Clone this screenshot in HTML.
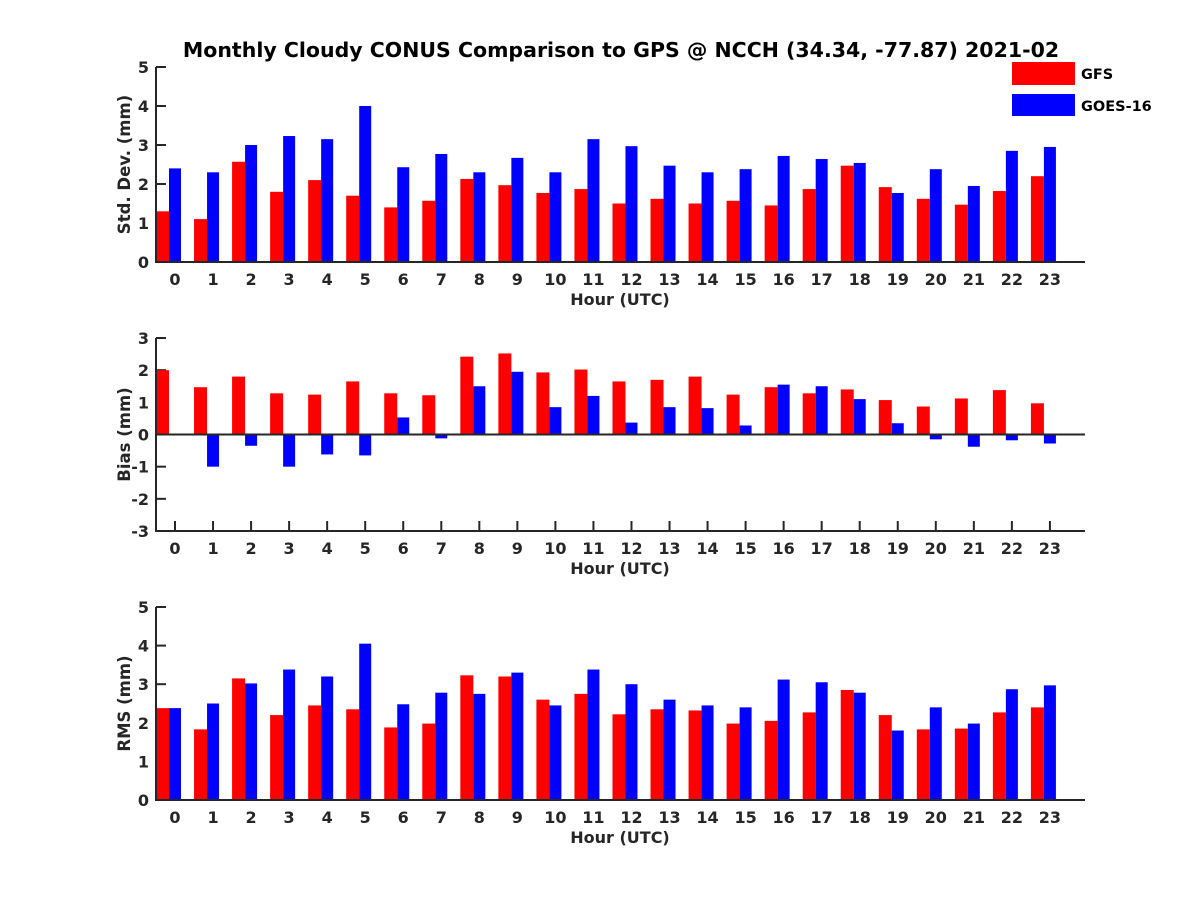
<!DOCTYPE html>
<html><head><meta charset="utf-8"><style>
body{margin:0;background:#fff;}
svg text{font-family:"DejaVu Sans","Liberation Sans",sans-serif;font-weight:bold;fill:#262626;}
</style></head><body>
<svg id="chart" width="1200" height="900" xmlns="http://www.w3.org/2000/svg">
<text x="621" y="57" font-size="20.5" text-anchor="middle" style="fill:#000">Monthly Cloudy CONUS Comparison to GPS @ NCCH (34.34, -77.87) 2021-02</text>
<g id="plots"></g>
<g>
<rect x="1012" y="62" width="63" height="23" fill="#ff0000"/>
<text x="1081" y="79" font-size="14.5" style="fill:#000">GFS</text>
<rect x="1012" y="94" width="63" height="22" fill="#0000ff"/>
<text x="1081" y="111" font-size="14.5" style="fill:#000">GOES-16</text>
</g>
</svg>
<script>
const hours=[0,1,2,3,4,5,6,7,8,9,10,11,12,13,14,15,16,17,18,19,20,21,22,23];
const stdGFS=[1.3,1.1,2.57,1.8,2.1,1.7,1.4,1.57,2.13,1.97,1.77,1.87,1.5,1.62,1.5,1.57,1.45,1.87,2.47,1.92,1.62,1.47,1.82,2.2];
const stdGOES=[2.4,2.3,3.0,3.23,3.15,4.0,2.43,2.77,2.3,2.67,2.3,3.15,2.97,2.47,2.3,2.38,2.72,2.64,2.54,1.77,2.38,1.95,2.85,2.95];
const biasGFS=[2.0,1.47,1.8,1.28,1.24,1.65,1.28,1.22,2.42,2.52,1.93,2.02,1.65,1.7,1.8,1.24,1.47,1.28,1.4,1.07,0.87,1.12,1.38,0.97];
const biasGOES=[0,-1.0,-0.35,-1.0,-0.62,-0.65,0.53,-0.12,1.5,1.95,0.85,1.2,0.37,0.85,0.82,0.28,1.55,1.5,1.1,0.35,-0.15,-0.38,-0.18,-0.28];
const rmsGFS=[2.38,1.83,3.15,2.2,2.45,2.35,1.88,1.98,3.23,3.2,2.6,2.75,2.22,2.35,2.32,1.98,2.05,2.27,2.85,2.2,1.83,1.85,2.27,2.4];
const rmsGOES=[2.38,2.5,3.02,3.38,3.2,4.05,2.48,2.78,2.75,3.3,2.45,3.38,3.0,2.6,2.45,2.4,3.12,3.05,2.78,1.8,2.4,1.98,2.87,2.97];
const stdTicks=[0,1,2,3,4,5];
const biasTicks=[-3,-2,-1,0,1,2,3];
const rmsTicks=[0,1,2,3,4,5];
const NS="http://www.w3.org/2000/svg";
const root=document.getElementById('plots');
function mk(tag,attrs,parent){const e=document.createElementNS(NS,tag);for(const k in attrs)e.setAttribute(k,attrs[k]);parent.appendChild(e);return e;}
const X0=156,X1=1085;
function xs(h){return 175+h*38.04;}
function panel(key,top,bottom,ymin,ymax,ticks,gfs,goes,ylabel){
  const g=mk('g',{},root);
  
  
  const ys=v=>bottom-(v-ymin)/(ymax-ymin)*(bottom-top);
  ticks.forEach(t=>{
    const y=ys(t);
    mk('line',{x1:X0,x2:X0+10,y1:y,y2:y,stroke:'#262626','stroke-width':2},g);
    const tx=mk('text',{x:X0-7,y:y+6,'font-size':16,'text-anchor':'end'},g);
    tx.textContent=t;
    
    
  });
  hours.forEach(h=>{
    const x=xs(h);
    mk('line',{x1:x,x2:x,y1:bottom,y2:bottom-10,stroke:'#262626','stroke-width':2},g);
    const tx=mk('text',{x:x,y:bottom+23,'font-size':16,'text-anchor':'middle'},g);
    tx.textContent=h;
    
    
  });
  hours.forEach((h,i)=>{
    const c=xs(h);
    const y0=ys(0);
    let v=gfs[i],y=ys(v);
    const r=mk('rect',{x:c-19,y:Math.min(y,y0),width:13,height:Math.abs(y0-y),fill:'#ff0000'},g);
    
    
    v=goes[i];y=ys(v);
    const b=mk('rect',{x:c-6,y:Math.min(y,y0),width:12,height:Math.abs(y0-y),fill:'#0000ff'},g);
    
    
  });
  if(ymin<0){const z=mk('line',{x1:X0,x2:X1,y1:ys(0),y2:ys(0),stroke:'#262626','stroke-width':2},g);
    }
  const ax=mk('path',{d:`M${X0},${top}V${bottom}H${X1}`,fill:'none',stroke:'#262626','stroke-width':2},g);
  
  
  const xl=mk('text',{x:620,y:bottom+43,'font-size':16,'text-anchor':'middle'},g);
  xl.textContent='Hour (UTC)';
  
  
  const yc=(top+bottom)/2;
  const yl=mk('text',{x:130,y:yc,'font-size':16.5,'text-anchor':'middle',transform:`rotate(-90 130 ${yc})`},g);
  yl.textContent=ylabel;
  
  
}
panel('std',67,262,0,5,stdTicks,stdGFS,stdGOES,'Std. Dev. (mm)');
panel('bias',338,531,-3,3,biasTicks,biasGFS,biasGOES,'Bias (mm)');
panel('rms',607,800,0,5,rmsTicks,rmsGFS,rmsGOES,'RMS (mm)');
</script>
</body></html>
